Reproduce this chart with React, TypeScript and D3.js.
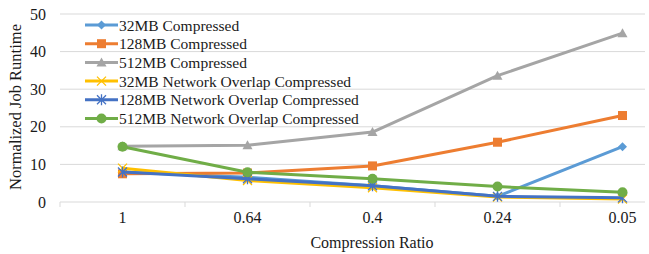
import * as d3 from "d3";
import { useEffect, useRef } from "react";

const categories = ["1", "0.64", "0.4", "0.24", "0.05"];
const yTicks = [0, 10, 20, 30, 40, 50];

const seriesNames = [
  "32MB Compressed",
  "128MB Compressed",
  "512MB Compressed",
  "32MB Network Overlap Compressed",
  "128MB Network Overlap Compressed",
  "512MB Network Overlap Compressed",
];

const mb32Compressed = [8, 6.6, 4.3, 1.5, 14.7];
const mb128Compressed = [7.5, 7.7, 9.6, 15.9, 23];
const mb512Compressed = [14.8, 15.1, 18.6, 33.6, 44.9];
const mb32Overlap = [9, 5.7, 3.8, 1.3, 0.8];
const mb128Overlap = [8, 6.2, 4.3, 1.5, 1.1];
const mb512Overlap = [14.7, 7.9, 6.2, 4.1, 2.6];

const colors = ["#5B9BD5", "#ED7D31", "#A5A5A5", "#FFC000", "#4472C4", "#70AD47"];
const markers = ["diamond", "square", "triangle", "x", "star", "circle"];

export default function App() {
  const ref = useRef<SVGSVGElement>(null);

  useEffect(() => {
    if (!ref.current) return;
    const svg = d3.select(ref.current);
    svg.selectAll("*").remove();

    const width = 649;
    const height = 254;
    const font = "Liberation Serif";
    const textColor = "#1a1a1a";
    const left = 60;
    const clipRight = 645;

    const series = [
      mb32Compressed,
      mb128Compressed,
      mb512Compressed,
      mb32Overlap,
      mb128Overlap,
      mb512Overlap,
    ];

    const x = d3.scaleBand().domain(categories).range([left, left + 625]);
    const y = d3.scaleLinear().domain([0, 50]).range([202, 14]);

    // grid
    svg
      .append("g")
      .selectAll("line")
      .data(yTicks.filter((t) => t > 0))
      .enter()
      .append("line")
      .attr("x1", left)
      .attr("x2", clipRight)
      .attr("y1", (d) => y(d))
      .attr("y2", (d) => y(d))
      .attr("stroke", "#d9d9d9")
      .attr("stroke-width", 1);

    // x axis line + ticks
    svg
      .append("line")
      .attr("x1", left)
      .attr("x2", clipRight)
      .attr("y1", y(0))
      .attr("y2", y(0))
      .attr("stroke", "#d9d9d9")
      .attr("stroke-width", 1);

    const tickXs = categories.map((c) => x(c)!);
    svg
      .append("g")
      .selectAll("line")
      .data(tickXs)
      .enter()
      .append("line")
      .attr("x1", (d) => d)
      .attr("x2", (d) => d)
      .attr("y1", y(0))
      .attr("y2", y(0) + 5)
      .attr("stroke", "#d9d9d9");

    // y tick labels
    svg
      .append("g")
      .selectAll("text")
      .data(yTicks)
      .enter()
      .append("text")
      .attr("x", 46)
      .attr("y", (d) => y(d) + 5.5)
      .attr("text-anchor", "end")
      .attr("font-family", font)
      .attr("font-size", 16)
      .attr("fill", textColor)
      .text((d) => d);

    // x tick labels
    svg
      .append("g")
      .selectAll("text")
      .data(categories)
      .enter()
      .append("text")
      .attr("x", (d) => x(d)! + x.bandwidth() / 2)
      .attr("y", 222.5)
      .attr("text-anchor", "middle")
      .attr("font-family", font)
      .attr("font-size", 16)
      .attr("fill", textColor)
      .text((d) => d);

    // axis titles
    svg
      .append("text")
      .attr("x", 372)
      .attr("y", 248)
      .attr("text-anchor", "middle")
      .attr("font-family", font)
      .attr("font-size", 16)
      .attr("fill", textColor)
      .text("Compression Ratio");

    svg
      .append("text")
      .attr("transform", `translate(21,107) rotate(-90)`)
      .attr("text-anchor", "middle")
      .attr("font-family", font)
      .attr("font-size", 16.5)
      .attr("fill", textColor)
      .text("Normalized Job Runtime");

    const drawMarker = (
      g: d3.Selection<SVGGElement, unknown, null, undefined>,
      type: string,
      cx: number,
      cy: number,
      color: string
    ) => {
      if (type === "diamond") {
        g.append("path")
          .attr("d", `M${cx},${cy - 4.5}L${cx + 4.5},${cy}L${cx},${cy + 4.5}L${cx - 4.5},${cy}Z`)
          .attr("fill", color);
      } else if (type === "square") {
        g.append("rect")
          .attr("x", cx - 4.5)
          .attr("y", cy - 4.5)
          .attr("width", 9)
          .attr("height", 9)
          .attr("fill", color);
      } else if (type === "triangle") {
        g.append("path")
          .attr("d", `M${cx},${cy - 5}L${cx + 5},${cy + 4}L${cx - 5},${cy + 4}Z`)
          .attr("fill", color);
      } else if (type === "circle") {
        g.append("circle").attr("cx", cx).attr("cy", cy).attr("r", 5).attr("fill", color);
      } else if (type === "x" || type === "star") {
        const s = 4.5;
        g.append("path")
          .attr(
            "d",
            `M${cx - s},${cy - s}L${cx + s},${cy + s}M${cx - s},${cy + s}L${cx + s},${cy - s}` +
              (type === "star" ? `M${cx},${cy - s - 1}L${cx},${cy + s + 1}` : "")
          )
          .attr("stroke", color)
          .attr("stroke-width", 1.3)
          .attr("fill", "none");
      }
    };

    const line = d3
      .line<number>()
      .x((_, i) => x(categories[i])! + x.bandwidth() / 2)
      .y((d) => y(d));

    series.forEach((vals, si) => {
      const g = svg.append("g");
      g.append("path")
        .attr("d", line(vals)!)
        .attr("fill", "none")
        .attr("stroke", colors[si])
        .attr("stroke-width", 3)
        .attr("stroke-linejoin", "round");
      vals.forEach((v, i) => {
        drawMarker(g, markers[si], x(categories[i])! + x.bandwidth() / 2, y(v), colors[si]);
      });
    });

    // legend
    const legend = svg.append("g");
    seriesNames.forEach((name, i) => {
      const ly = 25 + i * 18.7;
      const g = legend.append("g");
      g.append("line")
        .attr("x1", 85)
        .attr("x2", 118)
        .attr("y1", ly)
        .attr("y2", ly)
        .attr("stroke", colors[i])
        .attr("stroke-width", 3);
      drawMarker(g, markers[i], 101.5, ly, colors[i]);
      g.append("text")
        .attr("x", 119)
        .attr("y", ly + 5.5)
        .attr("font-family", font)
        .attr("font-size", 15.5)
        .attr("fill", textColor)
        .text(name);
    });

    svg.attr("width", width).attr("height", height);
  }, []);

  return (
    <svg
      ref={ref}
      width={649}
      height={254}
      style={{ position: "absolute", left: 0, top: 0, background: "#fff" }}
    />
  );
}
